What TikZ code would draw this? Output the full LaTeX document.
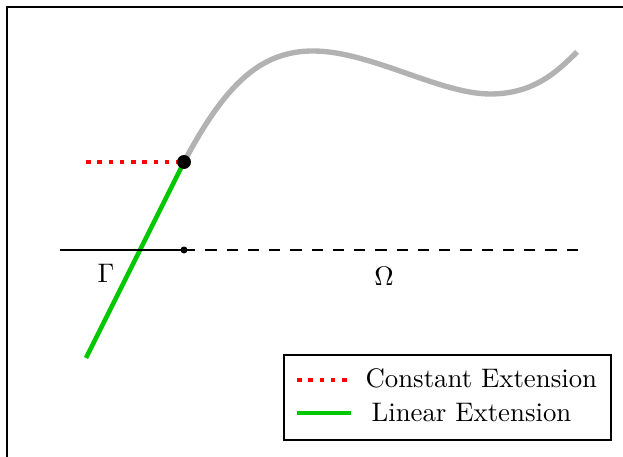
\documentclass[tikz,border=0pt]{standalone}
\usepackage{amsmath}
\usepackage{xcolor}
\definecolor{extGreen}{RGB}{0,200,0}
\definecolor{extRed}{RGB}{255,0,0}
\definecolor{curveGray}{RGB}{178,178,178}
\tikzset{
  constExt/.style={extRed, line width=1.7pt, dash pattern=on 1.7pt off 2.5pt},
  linExt/.style={extGreen, line width=1.75pt},
  bdryCurve/.style={curveGray, line width=2pt},
  axisLine/.style={black, line width=1pt},
}
\begin{document}
\begin{tikzpicture}[x=0.373pt,y=-0.373pt]
\useasboundingbox (0,0) rectangle (623,457);
\draw[line width=0.55pt] (7,457) -- (7,7) -- (623,7);
\coordinate (junction) at (184,162);
\coordinate (gammaEnd) at (184,250);
\coordinate (gammaStart) at (60,250);
\coordinate (omegaEnd) at (578,250);
\coordinate (constStart) at (86,162);
\coordinate (linEnd) at (86,358);
\coordinate (curvePeak) at (313,51);
\coordinate (curveDip) at (490,94);
\coordinate (curveEnd) at (577,52);
% boundary curve
\draw[bdryCurve] (junction) .. controls (225,85) and (260,51) .. (curvePeak) .. controls (370,51) and (440,94) .. (curveDip) .. controls (532,94) and (555,74) .. (curveEnd);
% extensions
\draw[constExt] (constStart) -- (junction);
\draw[linExt] (junction) -- (linEnd);
% domain line
\draw[axisLine] (gammaStart) -- (gammaEnd);
\draw[axisLine, dash pattern=on 4.2pt off 3.73pt] (gammaEnd) -- (omegaEnd);
\fill (junction) circle (2.6pt);
\fill (gammaEnd) circle (1.3pt);
\node (gammaLabel) at (106,273) {$\Gamma$};
\node (omegaLabel) at (384,276) {$\Omega$};
% legend
\draw[line width=0.5pt] (284,355) rectangle (611,440);
\coordinate (legA) at (297,380);
\coordinate (legB) at (349,380);
\coordinate (legC) at (297,413);
\coordinate (legD) at (351,413);
\draw[constExt] (legA) -- (legB);
\draw[linExt] (legC) -- (legD);
\node[anchor=base west, inner sep=0pt] (constText) at (365,388) {Constant Extension};
\node[anchor=base west, inner sep=0pt] (linText) at (371,422) {Linear Extension};
\end{tikzpicture}
\end{document}
